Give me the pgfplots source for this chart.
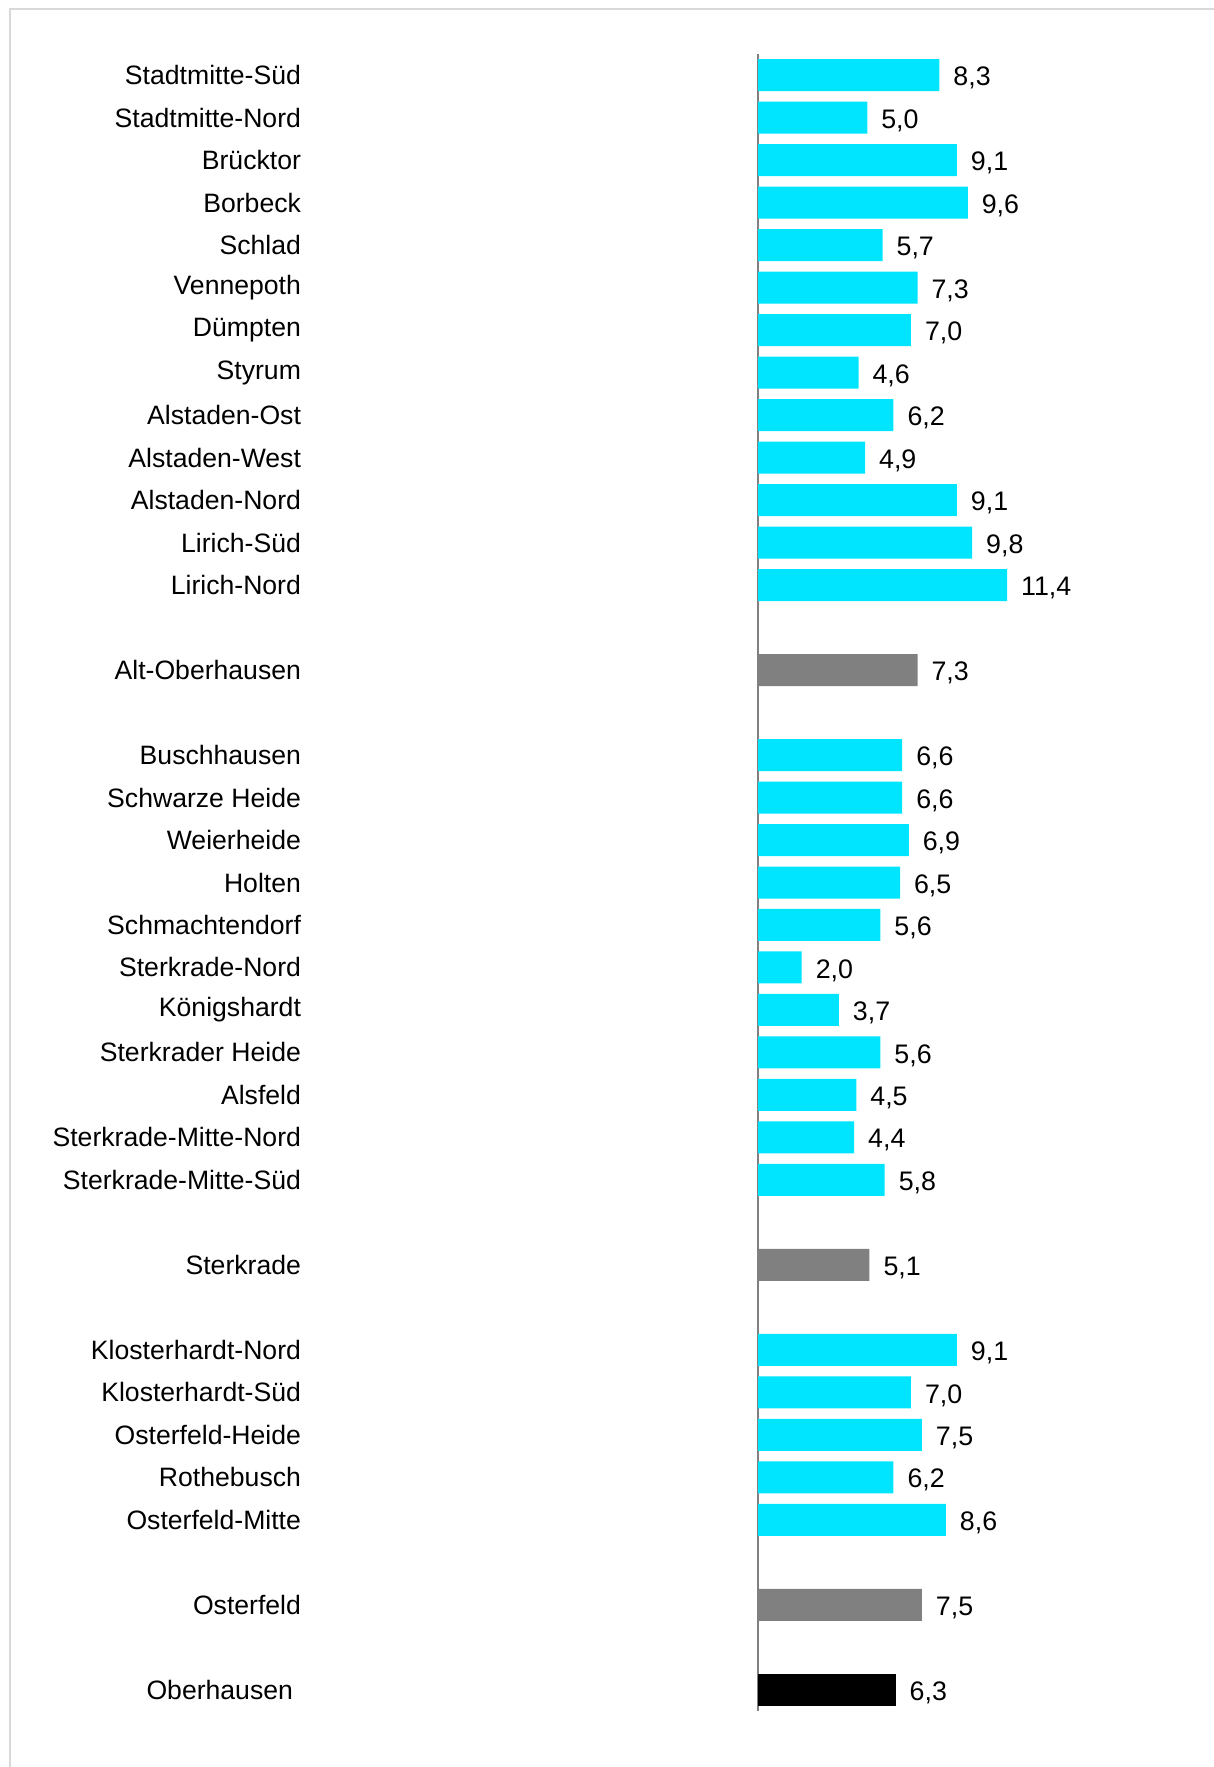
\documentclass[border=0pt]{standalone}
\usepackage{pgfplots}
\pgfplotsset{compat=1.18}
\usepackage{fontspec}
\setmainfont{Liberation Sans}
\definecolor{barcyan}{HTML}{00E5FF}
\definecolor{bargray}{HTML}{808080}
\definecolor{framegray}{HTML}{D9D9D9}
\begin{document}
\begin{tikzpicture}
\useasboundingbox (0,0) rectangle (607pt,883.5pt);
\draw[framegray, line width=1pt] (5pt,0) -- (5pt,879pt) -- (607pt,879pt);
\begin{axis}[
  at={(379pt,28pt)}, anchor=south west,
  scale only axis, width=218.5pt, height=828.5pt,
  xmin=0, xmax=20, ymin=-0.5, ymax=38.5, y dir=reverse,
  axis x line=none, axis y line*=left,
  axis line style={bargray, line width=0.75pt},
  major tick length=0pt,
  xbar, bar width=16pt, bar shift=0pt,
  ytick={0,1,2,3,4,5,6,7,8,9,10,11,12,14,16,17,18,19,20,21,22,23,24,25,26,28,30,31,32,33,34,36,38},
  yticklabels={Stadtmitte-Süd,Stadtmitte-Nord,Brücktor,Borbeck,Schlad,Vennepoth,Dümpten,Styrum,Alstaden-Ost,Alstaden-West,Alstaden-Nord,Lirich-Süd,Lirich-Nord,Alt-Oberhausen,Buschhausen,Schwarze Heide,Weierheide,Holten,Schmachtendorf,Sterkrade-Nord,Königshardt,Sterkrader Heide,Alsfeld,Sterkrade-Mitte-Nord,Sterkrade-Mitte-Süd,Sterkrade,Klosterhardt-Nord,Klosterhardt-Süd,Osterfeld-Heide,Rothebusch,Osterfeld-Mitte,Osterfeld,Oberhausen\rule{4pt}{0pt}},
  yticklabel style={anchor=east, xshift=-225pt, font=\fontsize{13.3}{15}\selectfont},
  nodes near coords,
  nodes near coords style={anchor=west, xshift=3.5pt, yshift=-1.5pt, font=\fontsize{13.4}{15}\selectfont, text=black},
  /pgf/number format/.cd, use comma, fixed, fixed zerofill, precision=1, assume math mode=true,
]
\addplot[draw=none, fill=barcyan, xbar, bar shift=0pt] coordinates {
(8.3,0) (5.0,1) (9.1,2) (9.6,3) (5.7,4) (7.3,5) (7.0,6) (4.6,7) (4.9,9) (6.2,8) (9.1,10) (9.8,11) (11.4,12)
(6.6,16) (6.6,17) (6.9,18) (6.5,19) (5.6,20) (2.0,21) (3.7,22) (5.6,23) (4.5,24) (4.4,25) (5.8,26)
(9.1,30) (7.0,31) (7.5,32) (6.2,33) (8.6,34)
};
\addplot[draw=none, fill=bargray, xbar, bar shift=0pt] coordinates {
(7.3,14) (5.1,28) (7.5,36)
};
\addplot[draw=none, fill=black, xbar, bar shift=0pt] coordinates {
(6.3,38)
};
\end{axis}
\end{tikzpicture}
\end{document}
